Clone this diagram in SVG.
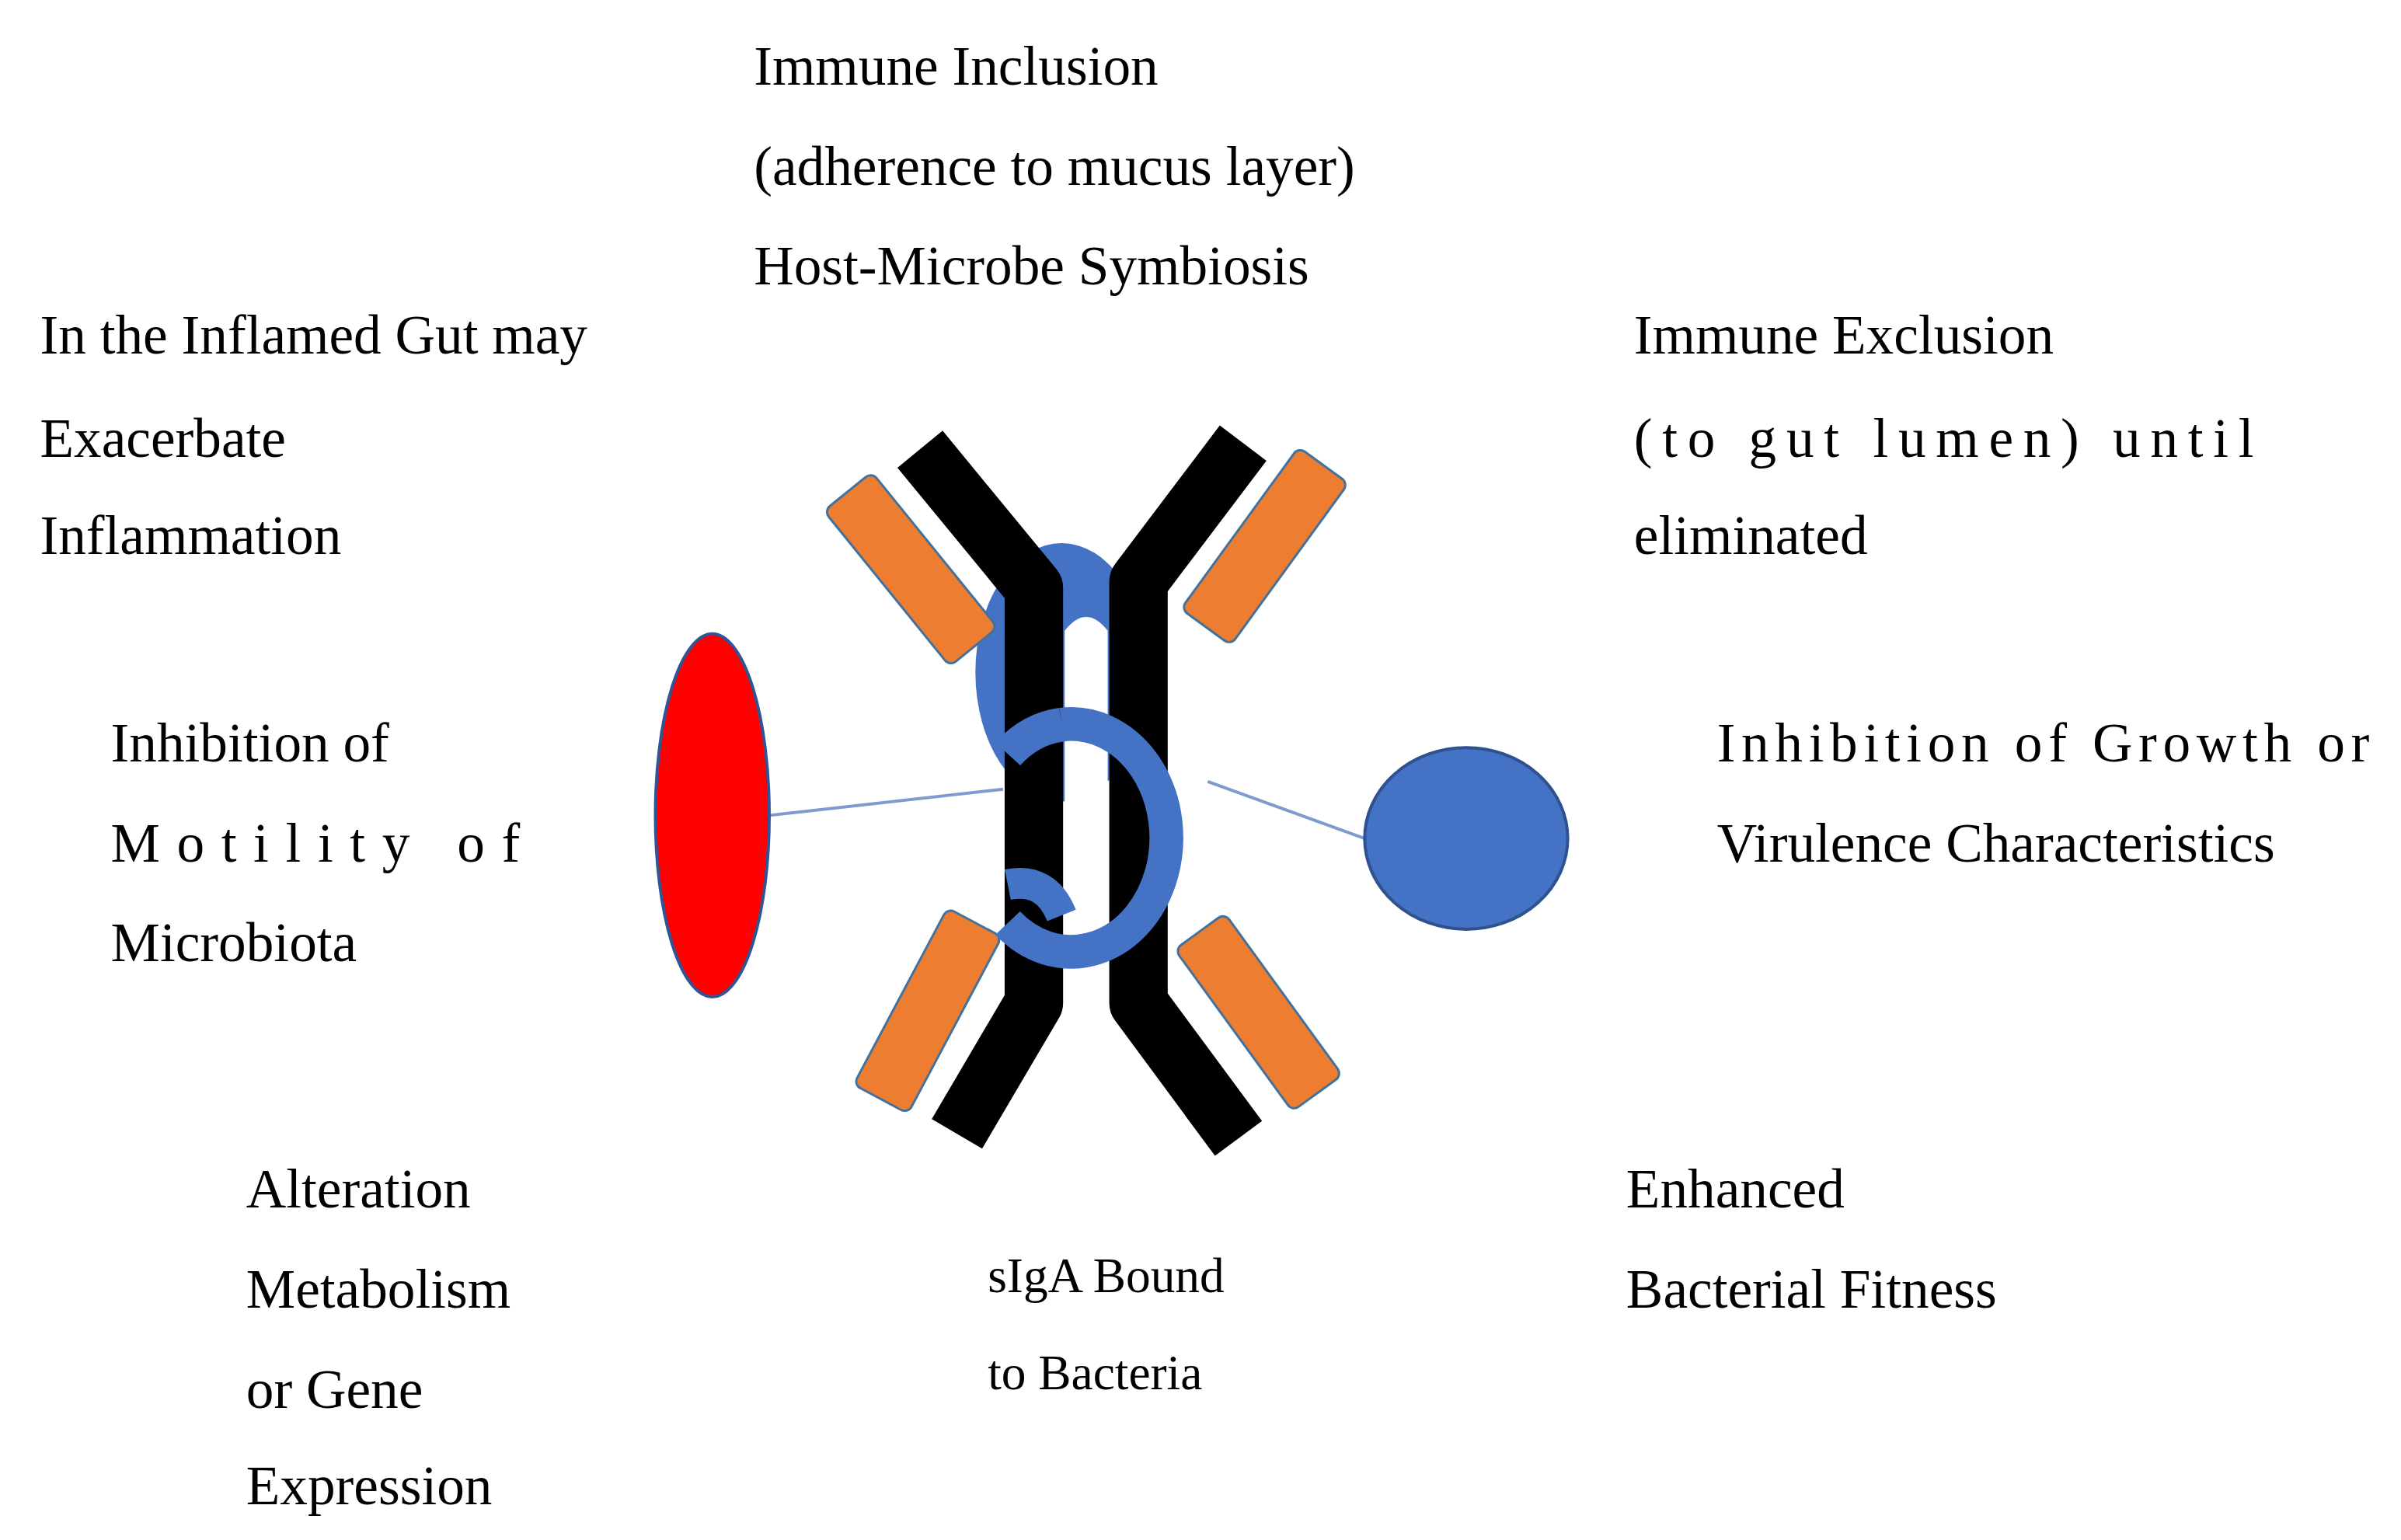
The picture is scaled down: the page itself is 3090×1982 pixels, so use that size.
<svg xmlns="http://www.w3.org/2000/svg" width="3090" height="1982" viewBox="0 0 3090 1982">
<style>
text{font-family:"Liberation Serif","Times New Roman",serif;font-size:36px;fill:#000}
.sm{font-size:32px}
.or{fill:#ED7D31;stroke:#41719C;stroke-width:1.5}
.ch{fill:none;stroke:#000;stroke-width:38;stroke-linejoin:round}
.ln{stroke:#7F9ACF;stroke-width:2}
</style>
<rect width="3090" height="1982" fill="#fff"/>
<g transform="scale(1.98)">
<g id="connectors">
<line class="ln" x1="500" y1="530" x2="652" y2="513"/>
<line class="ln" x1="785" y1="508" x2="887" y2="545"/>
</g>
<g id="antibody">
<ellipse cx="690" cy="437" rx="56" ry="84" fill="#4472C4"/>
<rect class="or" x="527" y="350" width="130" height="40" rx="5" transform="rotate(51 592 370)"/>
<rect class="or" x="757" y="335" width="130" height="40" rx="5" transform="rotate(-54 822 355)"/>
<rect class="or" x="538" y="637" width="130" height="40" rx="5" transform="rotate(-62 603 657)"/>
<rect class="or" x="753" y="638" width="130" height="40" rx="5" transform="rotate(54 818 658)"/>
<polyline class="ch" points="598,292 672,382 672,652 622,737"/>
<polyline class="ch" points="808,288 740,378 740,652 805,740"/>
<path d="M692,620 L692,410 Q706,392 720,410 L720,620 Z" fill="#fff"/>
<path d="M690,471 A62,74 0 1 1 655,600 M690,471 A62,74 0 0 0 655,490" fill="none" stroke="#4472C4" stroke-width="22"/>
<path d="M655,575 Q680,570 690,595" fill="none" stroke="#4472C4" stroke-width="20"/>
</g>
<g id="red-bacterium"><ellipse cx="463" cy="530" rx="37" ry="118" fill="#FF0000" stroke="#2F5597" stroke-width="2"/></g>
<g id="blue-bacterium"><ellipse cx="953" cy="545" rx="66" ry="59" fill="#4472C4" stroke="#2F528F" stroke-width="2"/></g>
<g id="t-inclusion">
<text x="490" y="55">Immune Inclusion</text>
<text x="490" y="120">(adherence to mucus layer)</text>
<text x="490" y="185">Host-Microbe Symbiosis</text>
</g>
<g id="t-inflamed">
<text x="26" y="230">In the Inflamed Gut may</text>
<text x="26" y="297">Exacerbate</text>
<text x="26" y="360">Inflammation</text>
</g>
<g id="t-exclusion">
<text x="1062" y="230">Immune Exclusion</text>
<text x="1062" y="297" textLength="403" lengthAdjust="spacing" xml:space="preserve">(to gut lumen) until</text>
<text x="1062" y="360">eliminated</text>
</g>
<g id="t-motility">
<text x="72" y="495">Inhibition of</text>
<text x="72" y="560" textLength="266" lengthAdjust="spacing">Motility of</text>
<text x="72" y="625">Microbiota</text>
</g>
<g id="t-growth">
<text x="1116" y="495" textLength="424" lengthAdjust="spacing">Inhibition of Growth or</text>
<text x="1116" y="560">Virulence Characteristics</text>
</g>
<g id="t-alteration">
<text x="160" y="785">Alteration</text>
<text x="160" y="850">Metabolism</text>
<text x="160" y="915">or Gene</text>
<text x="160" y="978">Expression</text>
</g>
<g id="t-fitness">
<text x="1057" y="785">Enhanced</text>
<text x="1057" y="850">Bacterial Fitness</text>
</g>
<g id="t-siga">
<text class="sm" x="642" y="840">sIgA Bound</text>
<text class="sm" x="642" y="903">to Bacteria</text>
</g>
</g>
</svg>
